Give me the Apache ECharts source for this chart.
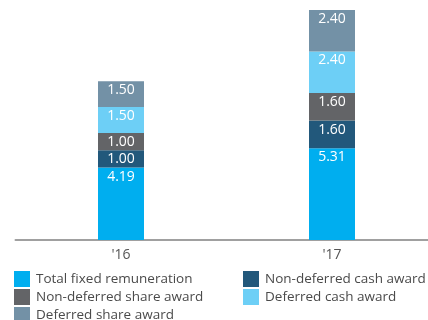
<!DOCTYPE html>
<html>
<head>
<meta charset="utf-8">
<script src="https://cdn.jsdelivr.net/npm/echarts@6/dist/echarts.min.js"></script>
<style>
  html, body { margin: 0; padding: 0; background: #fff; }
  #chart { width: 428px; height: 320px; }
</style>
</head>
<body>
<div id="chart"></div>
<script>
// Remuneration components per year (in millions)
const years = ["'16", "'17"];
const totalFixed = [4.19, 5.31];
const nonDeferredCash = [1.00, 1.60];
const nonDeferredShare = [1.00, 1.60];
const deferredCash = [1.50, 2.40];
const deferredShare = [1.50, 2.40];

const seriesNames = [
  'Total fixed remuneration',
  'Non-deferred cash award',
  'Non-deferred share award',
  'Deferred cash award',
  'Deferred share award'
];
const seriesData = [totalFixed, nonDeferredCash, nonDeferredShare, deferredCash, deferredShare];
const colors = ['#00aeef', '#22587b', '#636467', '#6dcff6', '#7391a6'];

const FONT = 'Open Sans';

const chart = echarts.init(document.getElementById('chart'), null, { renderer: 'canvas' });

const legendText = { color: '#4a4a4a', fontSize: 13.5, fontFamily: FONT, padding: [0, 0, 0, 1] };

// one legend block per cell of the two-column key
function legendBlock(left, top, names) {
  return {
    orient: 'vertical', left, top,
    padding: 0,
    itemWidth: 16, itemHeight: 16, itemGap: 2,
    icon: 'rect',
    textStyle: legendText,
    data: names
  };
}

chart.setOption({
  animation: false,
  color: colors,
  // the plot runs past the right edge of the canvas
  grid: { left: 15.5, top: 10, right: -9.5, bottom: 80, outerBoundsMode: 'none' },
  xAxis: {
    type: 'category',
    data: years,
    axisLine: { lineStyle: { color: '#a0a0a0', width: 2 } },
    axisTick: { show: false },
    axisLabel: { color: '#555', fontSize: 14, fontFamily: FONT, margin: 8 }
  },
  yAxis: {
    type: 'value',
    min: 0,
    max: 13.31,
    show: false,
    splitLine: { show: false }
  },
  legend: [
    legendBlock(14, 271, [seriesNames[0], seriesNames[2]]),
    legendBlock(14, 307, [seriesNames[4]]),
    legendBlock(243, 271, [seriesNames[1], seriesNames[3]])
  ],
  series: seriesNames.map((name, i) => ({
    name,
    type: 'bar',
    stack: 'total',
    barWidth: 46,
    data: seriesData[i],
    label: {
      show: true,
      position: 'insideTop',
      distance: 2,
      color: '#fff',
      fontSize: 14,
      fontFamily: FONT,
      formatter: p => p.value.toFixed(2)
    }
  }))
});
</script>
</body>
</html>
